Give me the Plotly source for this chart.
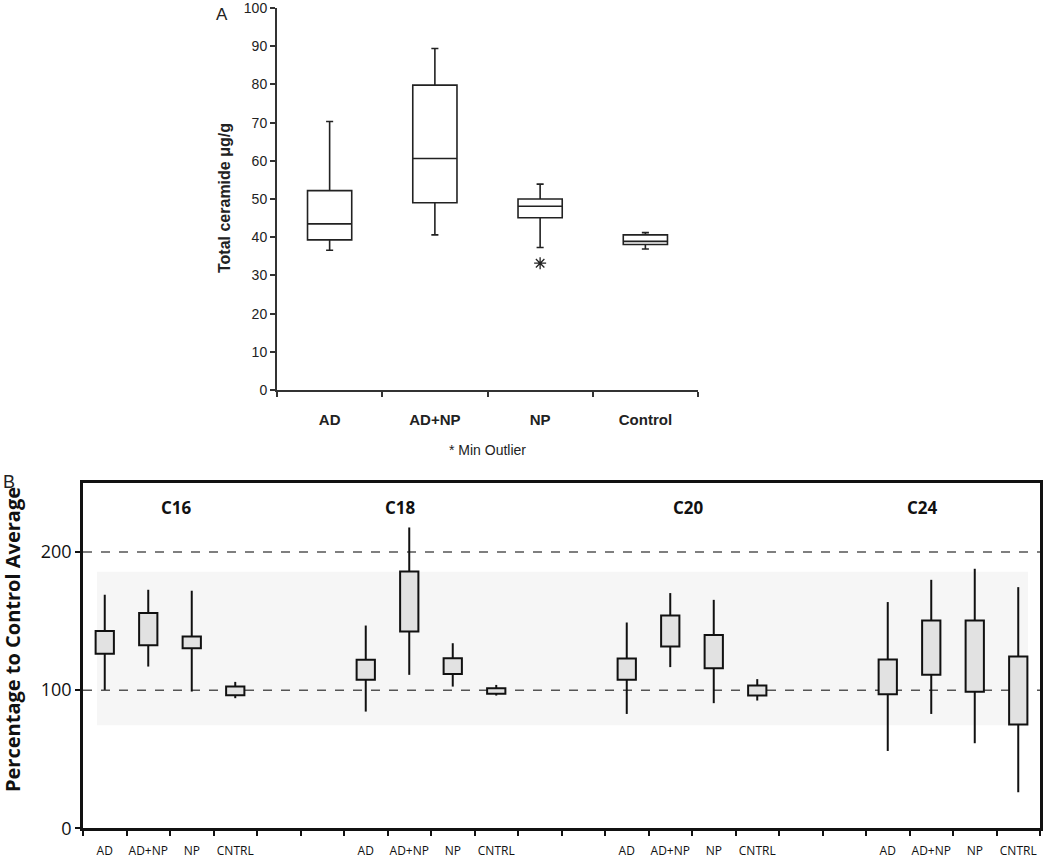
import plotly.graph_objects as go

# ---------------- Panel A data ----------------
a_groups = ["AD", "AD+NP", "NP", "Control"]
a_lower = [36.6, 40.6, 37.3, 36.9]
a_q1 = [39.3, 49.0, 45.1, 38.1]
a_median = [43.5, 60.6, 48.1, 38.9]
a_q3 = [52.2, 79.8, 50.0, 40.6]
a_upper = [70.3, 89.4, 53.9, 41.2]
a_outlier_group = "NP"
a_outlier_value = 33.2
a_yticks = [0, 10, 20, 30, 40, 50, 60, 70, 80, 90, 100]

# ---------------- Panel B data ----------------
b_chains = ["C16", "C18", "C20", "C24"]
b_groups = ["AD", "AD+NP", "NP", "CNTRL"]
b_low = [
    [100.2, 117.1, 99.0, 94.2],
    [84.5, 111.1, 102.6, 96.1],
    [82.8, 116.7, 90.6, 92.5],
    [56.0, 82.8, 61.6, 26.1],
]
b_q1 = [
    [126.3, 132.6, 130.4, 96.4],
    [107.5, 142.5, 111.8, 97.5],
    [107.5, 131.6, 115.9, 96.1],
    [97.1, 111.1, 98.8, 75.1],
]
b_q3 = [
    [142.8, 155.8, 138.8, 102.6],
    [122.0, 186.0, 123.2, 101.4],
    [122.9, 154.1, 139.9, 103.3],
    [122.2, 150.4, 150.4, 124.4],
]
b_high = [
    [169.1, 172.7, 172.0, 106.0],
    [146.8, 217.8, 134.0, 103.8],
    [149.0, 170.3, 165.4, 108.0],
    [163.8, 179.9, 187.9, 174.6],
]
b_yticks = [0, 100, 200]
b_ref_lines = [100, 200]
b_band = [74.6, 185.7]

W, H = 1050, 858

def px_x(p):
    return p / W

def px_y(p):
    return (H - p) / H

fig = go.Figure()

# ---------- Panel A boxes ----------
a_x = list(range(len(a_groups)))
fig.add_trace(go.Box(
    x=a_x, q1=a_q1, median=a_median, q3=a_q3,
    lowerfence=a_lower, upperfence=a_upper,
    width=0.42, whiskerwidth=0.16, boxpoints=False,
    fillcolor="white", line=dict(color="#222222", width=1.6),
    xaxis="x", yaxis="y", showlegend=False, hoverinfo="skip",
))
fig.add_trace(go.Scatter(
    x=[a_groups.index(a_outlier_group)], y=[a_outlier_value], mode="markers",
    marker=dict(symbol="asterisk-open", size=10, color="#222222",
                line=dict(color="#222222", width=1.3)),
    xaxis="x", yaxis="y", showlegend=False, hoverinfo="skip",
))

# ---------- Panel B floating boxes ----------
slot_per_chain = len(b_groups) + 2
b_pos, b_text = [], []
bar_x, bar_base, bar_h = [], [], []
wx, wy = [], []
for ci, chain in enumerate(b_chains):
    for gi, g in enumerate(b_groups):
        p = ci * slot_per_chain + gi
        b_pos.append(p)
        b_text.append(g)
        bar_x.append(p)
        bar_base.append(b_q1[ci][gi])
        bar_h.append(b_q3[ci][gi] - b_q1[ci][gi])
        wx += [p, p, None, p, p, None]
        wy += [b_low[ci][gi], b_q1[ci][gi], None, b_q3[ci][gi], b_high[ci][gi], None]

fig.add_trace(go.Scatter(
    x=wx, y=wy, mode="lines", line=dict(color="#111111", width=2),
    xaxis="x2", yaxis="y2", showlegend=False, hoverinfo="skip",
))
fig.add_trace(go.Bar(
    x=bar_x, y=bar_h, base=bar_base, width=0.42,
    marker=dict(color="#e2e2e2", line=dict(color="#111111", width=2)),
    xaxis="x2", yaxis="y2", showlegend=False, hoverinfo="skip",
))

n_slots = slot_per_chain * len(b_chains) - 2

fig.update_layout(
    template="none",
    width=W, height=H,
    margin=dict(l=0, r=0, t=0, b=0, pad=0),
    paper_bgcolor="white", plot_bgcolor="rgba(0,0,0,0)",
    showlegend=False,
    xaxis=dict(
        domain=[px_x(277), px_x(698)], range=[-0.5, len(a_groups) - 0.5],
        anchor="y", automargin=False,
        tickvals=a_x, ticktext=a_groups,
        ticks="outside", ticklen=15, tickcolor="rgba(0,0,0,0)",
        tickfont=dict(family="Liberation Sans, Arial", size=15, color="#222222", weight="bold"),
        minor=dict(tick0=-0.5, dtick=1, ticks="outside", ticklen=5, tickwidth=1.5, tickcolor="#333333"),
        showline=True, linecolor="#333333", linewidth=2,
        showgrid=False, zeroline=False,
    ),
    yaxis=dict(
        domain=[px_y(390), px_y(8)], range=[0, 100],
        anchor="x", automargin=False, ticklabeloverflow="allow",
        tickvals=a_yticks,
        ticks="outside", ticklen=5, tickwidth=1.5, tickcolor="#333333",
        tickfont=dict(family="Liberation Sans Narrow, Liberation Sans, Arial", size=14, color="#222222"),
        showline=True, linecolor="#333333", linewidth=2,
        showgrid=False, zeroline=False,
    ),
    xaxis2=dict(
        domain=[px_x(83), px_x(1040)], range=[-0.5, n_slots - 0.5],
        anchor="y2", automargin=False, ticklabeloverflow="allow",
        tickvals=b_pos, ticktext=b_text,
        ticks="outside", ticklen=10, tickcolor="rgba(0,0,0,0)",
        tickfont=dict(family="Open Sans, Noto Sans", size=12, color="#111111"),
        minor=dict(tick0=-0.5, dtick=1, ticks="outside", ticklen=5, tickwidth=2, tickcolor="#111111"),
        showline=True, linecolor="#111111", linewidth=2.5, mirror=True,
        showgrid=False, zeroline=False,
    ),
    yaxis2=dict(
        domain=[px_y(828.3), px_y(483)], range=[0, 250],
        anchor="x2", automargin=False,
        tickvals=b_yticks,
        ticks="outside", ticklen=5, tickwidth=2, tickcolor="#111111",
        tickfont=dict(family="Open Sans, Noto Sans", size=18, color="#111111"),
        showline=True, linecolor="#111111", linewidth=2.5, mirror=True,
        showgrid=False, zeroline=False,
    ),
)

# shaded band and dashed reference lines in panel B
fig.add_shape(type="rect", xref="x2 domain", yref="y2",
              x0=(97 - 83) / 957, x1=(1028 - 83) / 957, y0=b_band[0], y1=b_band[1],
              fillcolor="#f6f6f6", line=dict(width=0), layer="below")
for v in b_ref_lines:
    fig.add_shape(type="line", xref="x2 domain", yref="y2", x0=0, x1=1, y0=v, y1=v,
                  line=dict(color="#555555", width=1.6, dash="dash"), layer="below")

# chain labels
chain_centers = [1.65, 6.79, 13.43, 18.79]
for chain, cx in zip(b_chains, chain_centers):
    fig.add_annotation(x=cx, y=232, xref="x2", yref="y2", text="<b>" + chain + "</b>",
                       xanchor="center", yanchor="middle",
                       showarrow=False, font=dict(family="Open Sans, Noto Sans", size=17, color="#111111"))

def label(px, py, text, size, family, angle=0, color="#222222"):
    fig.add_annotation(x=px_x(px), y=px_y(py), xref="paper", yref="paper", text=text,
                       xanchor="center", yanchor="middle", textangle=angle, showarrow=False,
                       font=dict(family=family, size=size, color=color))

label(222, 14, "A", 17, "Liberation Sans, Arial")
label(9, 482, "B", 18, "Liberation Sans, Arial")
label(225, 198, "<b>Total ceramide μg/g</b>", 16, "Liberation Sans, Arial", angle=-90)
label(487, 450, "* Min Outlier", 14, "Liberation Sans Narrow, Liberation Sans, Arial")
label(12, 640, "<b>Percentage to Control Average</b>", 20, "Open Sans, Noto Sans", angle=-90, color="#111111")

fig.write_html("out.html", config={"displayModeBar": False},
               post_script="document.body.style.margin='0';")
